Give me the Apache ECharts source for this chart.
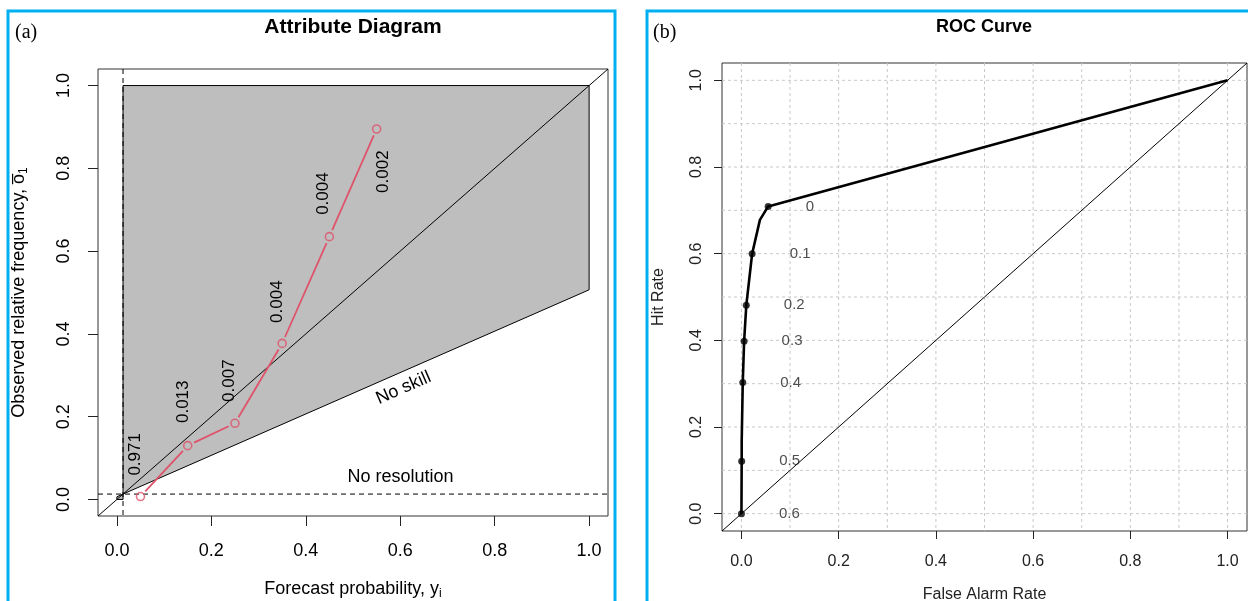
<!DOCTYPE html>
<html><head><meta charset="utf-8">
<script src="https://cdn.jsdelivr.net/npm/echarts@6/dist/echarts.min.js"></script>
<style>html,body{margin:0;padding:0;background:#fff}#c{width:1248px;height:601px}</style>
</head><body><div id="c"></div><script>
// ---------- data: attribute diagram ----------
const clim = 0.013;
const binX = [0.05, 0.15, 0.25, 0.35, 0.45, 0.55];
const obsFreq = [0.007, 0.130, 0.184, 0.377, 0.635, 0.895];
const binFreqLabels = ['0.971', '0.013', '0.007', '0.004', '0.004', '0.002'];
const binLabelX = [0.038, 0.141, 0.239, 0.340, 0.437, 0.564];
const binLabelY = [0.109, 0.236, 0.287, 0.478, 0.739, 0.792];
const tickVals = [0, 0.2, 0.4, 0.6, 0.8, 1.0];
// ---------- data: ROC curve ----------
const rocFar = [0, 0.0005, 0.0005, 0.0027, 0.0055, 0.010, 0.022, 0.038, 0.055, 1];
const rocHit = [0, 0.121, 0.165, 0.3025, 0.398, 0.481, 0.600, 0.678, 0.709, 1];
const thrLabels = ['0', '0.1', '0.2', '0.3', '0.4', '0.5', '0.6'];
const thrFar = [0.055, 0.022, 0.010, 0.0055, 0.0027, 0.0005, 0];
const thrHit = [0.709, 0.600, 0.481, 0.398, 0.3025, 0.121, 0];
const gridVals = [0, 0.1, 0.2, 0.3, 0.4, 0.5, 0.6, 0.7, 0.8, 0.9, 1.0];
const axMin = -0.04, axMax = 1.04;

const FONT = 'Liberation Sans, Arial, sans-serif';
const RED = '#DF536B';
const chart = echarts.init(document.getElementById('c'), null, {renderer: 'canvas'});

function valueAxis(gi, isY, tickLen, margin, fontSize, color, name, nameGap, rich) {
  return {
    type: 'value', gridIndex: gi, min: axMin, max: axMax,
    axisLine: {show: false, onZero: false},
    splitLine: {show: false},
    axisTick: {show: true, customValues: tickVals, length: tickLen, inside: false, lineStyle: {color: '#222', width: 1}},
    axisLabel: {show: true, customValues: tickVals, margin: margin, rotate: isY ? 90 : 0,
      formatter: v => v.toFixed(1), fontSize: fontSize, color: color, fontFamily: FONT},
    name: name, nameLocation: 'middle', nameGap: nameGap,
    nameTextStyle: rich ? {rich: rich} : {fontSize: fontSize, color: color, fontFamily: FONT}
  };
}

const diag = [[axMin, axMin], [axMax, axMax]];
const a = (1 - clim) / 2 + clim;
const b = clim / 2;

const option = {
  animation: false,
  textStyle: {fontFamily: FONT},
  grid: [
    {left: 98, top: 69, width: 510, height: 447, show: true, borderColor: '#333', borderWidth: 1, backgroundColor: 'transparent', outerBoundsMode: 'none'},
    {left: 722, top: 63, width: 525, height: 468, show: true, borderColor: '#333', borderWidth: 1, backgroundColor: 'transparent', outerBoundsMode: 'none'}
  ],
  xAxis: [
    valueAxis(0, false, 10, 26, 18, '#000', '{a|Forecast probability, y}{b|i}', 62,
      {a: {fontSize: 18, fontFamily: FONT, color: '#000', lineHeight: 22}, b: {fontSize: 12, fontFamily: FONT, color: '#000', lineHeight: 14, verticalAlign: 'bottom'}}),
    valueAxis(1, false, 8, 23, 16, '#222', 'False Alarm Rate', 56)
  ],
  yAxis: [
    valueAxis(0, true, 10, 25, 18, '#000', '{a|Observed relative frequency, o\u0305}{b|1}', 68,
      {a: {fontSize: 18, fontFamily: FONT, color: '#000', lineHeight: 22}, b: {fontSize: 12, fontFamily: FONT, color: '#000', lineHeight: 14, verticalAlign: 'bottom'}}),
    valueAxis(1, true, 8, 17, 16, '#222', 'Hit Rate', 55)
  ],
  graphic: [
    {type: 'rect', shape: {x: 8, y: 11, width: 607, height: 640}, style: {fill: 'none', stroke: '#00B0F0', lineWidth: 3}, z: 100},
    {type: 'rect', shape: {x: 647, y: 11, width: 700, height: 640}, style: {fill: 'none', stroke: '#00B0F0', lineWidth: 3}, z: 100},
    {type: 'text', x: 15, y: 33, style: {text: '(a)', font: '20px "Liberation Serif", "Times New Roman", serif', fill: '#000', verticalAlign: 'middle'}},
    {type: 'text', x: 653, y: 33, style: {text: '(b)', font: '20px "Liberation Serif", "Times New Roman", serif', fill: '#000', verticalAlign: 'middle'}},
    {type: 'text', x: 353, y: 27, style: {text: 'Attribute Diagram', font: 'bold 21px "Liberation Sans", Arial, sans-serif', fill: '#000', align: 'center', verticalAlign: 'middle'}},
    {type: 'text', x: 984, y: 27, style: {text: 'ROC Curve', font: 'bold 18px "Liberation Sans", Arial, sans-serif', fill: '#000', align: 'center', verticalAlign: 'middle'}}
  ],
  series: [
    // shaded skill region
    {
      type: 'custom', xAxisIndex: 0, yAxisIndex: 0, z: 1, silent: true,
      data: [[clim]],
      renderItem: (params, api) => {
        const pts = [[clim, 0], [clim, 1], [1, 1], [1, a], [0, b], [0, 0]].map(p => api.coord(p));
        return {type: 'polygon', shape: {points: pts}, style: {fill: '#BEBEBE', stroke: '#000', lineWidth: 1}};
      }
    },
    // climatology dashed lines
    {
      type: 'custom', xAxisIndex: 0, yAxisIndex: 0, z: 2, silent: true,
      data: [[clim]],
      renderItem: (params, api) => {
        const cs = params.coordSys;
        const p = api.coord([clim, clim]);
        const st = {stroke: '#000', lineWidth: 1, lineDash: [5, 4]};
        return {type: 'group', children: [
          {type: 'line', shape: {x1: cs.x, y1: p[1], x2: cs.x + cs.width, y2: p[1]}, style: st},
          {type: 'line', shape: {x1: p[0], y1: cs.y, x2: p[0], y2: cs.y + cs.height}, style: st}
        ]};
      }
    },
    // perfect reliability diagonal
    {type: 'line', xAxisIndex: 0, yAxisIndex: 0, z: 3, data: diag, showSymbol: false, silent: true,
      lineStyle: {color: '#000', width: 1}},
    // reliability segments with gaps (type "b")
    {
      type: 'custom', xAxisIndex: 0, yAxisIndex: 0, z: 4, silent: true,
      data: binX.slice(0, -1).map((x, i) => [x, obsFreq[i], binX[i + 1], obsFreq[i + 1]]),
      renderItem: (params, api) => {
        const p1 = api.coord([api.value(0), api.value(1)]);
        const p2 = api.coord([api.value(2), api.value(3)]);
        const dx = p2[0] - p1[0], dy = p2[1] - p1[1];
        const L = Math.sqrt(dx * dx + dy * dy), g = 7;
        const ux = dx / L, uy = dy / L;
        return {type: 'line', shape: {x1: p1[0] + ux * g, y1: p1[1] + uy * g, x2: p2[0] - ux * g, y2: p2[1] - uy * g},
          style: {stroke: RED, lineWidth: 1.8}};
      }
    },
    {type: 'scatter', xAxisIndex: 0, yAxisIndex: 0, z: 5, symbol: 'circle', symbolSize: 8, silent: true,
      data: binX.map((x, i) => [x, obsFreq[i]]),
      itemStyle: {color: 'transparent', borderColor: RED, borderWidth: 1.6}},
    // bin frequency labels (rotated)
    {
      type: 'custom', xAxisIndex: 0, yAxisIndex: 0, z: 6, silent: true,
      data: binLabelX.map((x, i) => [x, binLabelY[i]]),
      renderItem: (params, api) => {
        const p = api.coord([api.value(0), api.value(1)]);
        return {type: 'text', x: p[0], y: p[1], rotation: Math.PI / 2,
          style: {text: binFreqLabels[params.dataIndex], font: '17px "Liberation Sans", Arial, sans-serif', fill: '#000', align: 'center', verticalAlign: 'middle'}};
      }
    },
    // "No skill" and "No resolution"
    {
      type: 'custom', xAxisIndex: 0, yAxisIndex: 0, z: 6, silent: true,
      data: [[0.607, 0.269, 1], [0.6006, 0.054, 0]],
      renderItem: (params, api) => {
        const p = api.coord([api.value(0), api.value(1)]);
        let rot = 0;
        if (api.value(2) === 1) {
          const q1 = api.coord([clim, clim]), q2 = api.coord([1, a]);
          rot = Math.atan2(q1[1] - q2[1], q2[0] - q1[0]);
        }
        return {type: 'text', x: p[0], y: p[1], rotation: rot,
          style: {text: params.dataIndex === 0 ? 'No skill' : 'No resolution', font: '18px "Liberation Sans", Arial, sans-serif', fill: '#000', align: 'center', verticalAlign: 'middle'}};
      }
    },
    // ROC grid lines
    {
      type: 'custom', xAxisIndex: 1, yAxisIndex: 1, z: 1, silent: true,
      data: gridVals.map(v => [v]),
      renderItem: (params, api) => {
        const cs = params.coordSys;
        const v = api.value(0);
        const p = api.coord([v, v]);
        const st = {stroke: '#C8C8C8', lineWidth: 1, lineDash: [3, 3]};
        return {type: 'group', children: [
          {type: 'line', shape: {x1: p[0], y1: cs.y, x2: p[0], y2: cs.y + cs.height}, style: st},
          {type: 'line', shape: {x1: cs.x, y1: p[1], x2: cs.x + cs.width, y2: p[1]}, style: st}
        ]};
      }
    },
    {type: 'line', xAxisIndex: 1, yAxisIndex: 1, z: 2, data: diag, showSymbol: false, silent: true,
      lineStyle: {color: '#000', width: 1}},
    {type: 'line', xAxisIndex: 1, yAxisIndex: 1, z: 3, data: rocFar.map((x, i) => [x, rocHit[i]]), showSymbol: false, silent: true,
      lineStyle: {color: '#000', width: 2.6}},
    {type: 'scatter', xAxisIndex: 1, yAxisIndex: 1, z: 4, symbol: 'circle', symbolSize: 7, silent: true,
      data: thrFar.map((x, i) => [x, thrHit[i]]), itemStyle: {color: '#000'},
      label: {show: true, position: 'right', distance: 34, formatter: p => thrLabels[p.dataIndex],
        fontSize: 15, color: '#222', fontFamily: FONT, align: 'left', verticalAlign: 'middle'}}
  ]
};
chart.setOption(option);
</script></body></html>
